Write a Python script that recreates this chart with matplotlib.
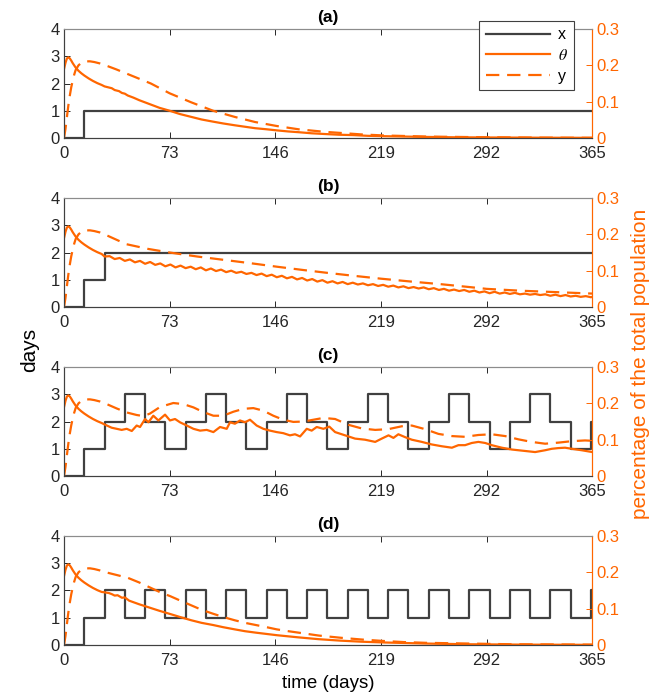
import numpy as np
import matplotlib
matplotlib.use('Agg')
import matplotlib.pyplot as plt
from matplotlib.lines import Line2D

plt.rcParams['font.family'] = ['Liberation Sans', 'DejaVu Sans']
plt.rcParams['mathtext.fontset'] = 'stix'

ORANGE = '#ff6600'
GREY = '#404040'

# ---- data ----
# x is held constant over 14-day blocks starting at these days
block_days = list(range(0, 365, 14))
x_a = [0, 1, 1, 1, 1, 1, 1, 1, 1, 1, 1, 1, 1, 1, 1, 1, 1, 1, 1, 1, 1, 1, 1, 1, 1, 1, 1]
x_b = [0, 1, 2, 2, 2, 2, 2, 2, 2, 2, 2, 2, 2, 2, 2, 2, 2, 2, 2, 2, 2, 2, 2, 2, 2, 2, 2]
x_c = [0, 1, 2, 3, 2, 1, 2, 3, 2, 1, 2, 3, 2, 1, 2, 3, 2, 1, 2, 3, 2, 1, 2, 3, 2, 1, 2]
x_d = [0, 1, 2, 1, 2, 1, 2, 1, 2, 1, 2, 1, 2, 1, 2, 1, 2, 1, 2, 1, 2, 1, 2, 1, 2, 1, 2]

# first four weeks are the same in every scenario
t_th_early = [0, 1, 2, 3, 4, 5, 6, 8, 10, 12, 14, 17, 20, 23, 26]
th_early = [.190, .207, .219, .222, .219, .213, .206, .194, .185, .178, .172, .164, .157, .151, .146]
t_y_early = [0, 1, 2, 3, 4, 5, 6, 7, 8, 10, 12, 15, 18, 21, 25]
y_early = [0, .025, .058, .090, .117, .140, .158, .174, .187, .200, .207, .211, .211, .209, .205]

# (a)
t_th_a = [28, 31, 33, 35, 38, 40, 42, 44, 48, 52, 56, 60, 66, 73, 80, 88, 95, 103, 110, 118,
          125, 132, 140, 147, 155, 162, 171, 180, 190, 200, 210, 221, 235, 250, 270, 292, 330, 365]
th_a = [.142, .139, .137, .132, .129, .124, .122, .117, .111, .104, .098, .092, .083, .075, .066,
        .058, .051, .045, .040, .035, .031, .027, .024, .021, .018, .016, .013, .011, .009, .008,
        .006, .005, .004, .003, .002, .0015, .0008, .0005]
t_y_a = [28, 36, 44, 52, 60, 73, 88, 103, 118, 132, 147, 162, 180, 191, 205, 221, 250, 292, 330, 365]
y_a = [.201, .189, .176, .163, .150, .123, .098, .075, .058, .044, .033, .024, .017, .014, .010,
       .007, .004, .002, .001, .0005]

# (b)
t_th_b = list(np.arange(28, 365, 3.5)) + [365]
th_b = [.139, .140, .132, .135, .127, .131, .123, .127, .119, .124,
        .116, .120, .112, .117, .109, .114, .107, .111, .104, .109,
        .101, .106, .099, .103, .096, .100, .094, .097, .091, .094,
        .088, .092, .085, .089, .082, .086, .079, .083, .076, .080,
        .073, .077, .070, .074, .067, .071, .065, .069, .063, .067,
        .062, .065, .060, .063, .058, .061, .056, .059, .054, .057,
        .052, .055, .051, .054, .049, .052, .047, .050, .045, .048,
        .044, .047, .042, .045, .040, .043, .038, .042, .037, .040,
        .036, .039, .035, .037, .034, .036, .033, .035, .031, .034,
        .030, .033, .029, .031, .028, .030, .027, .028]
t_y_b = [28, 43, 58, 73, 92, 112, 130, 147, 165, 182, 200, 219, 240, 260, 280, 292, 315, 340, 365]
y_b = [.200, .173, .160, .150, .139, .129, .120, .111, .102, .094, .086, .078, .070, .063, .055,
       .050, .045, .041, .037]

# (c)
t_th_c = [28, 32.9, 36.4, 39.8, 43.3, 46.8, 50.2, 52.5, 56.0, 58.3, 61.7, 65.2, 69.8, 73.2, 76.7,
          80.1, 84.8, 89.4, 94.0, 98.6, 103.2, 107.8, 112.4, 114.7, 118.1, 121.6, 125.0, 128.5,
          133.1, 137.7, 142.3, 146.9, 151.5, 156.1, 159.6, 163.1, 167.7, 171.1, 174.6, 179.2,
          183.3, 187.3, 194.2, 201.1, 208.0, 215.0, 219.5, 224.2, 227.6, 231.0, 235.7, 240.3,
          247.2, 254.0, 261.0, 268.0, 272.5, 277.1, 281.7, 286.3, 291.0, 295.5, 302.5, 309.4,
          318.6, 325.5, 332.4, 337.0, 341.6, 346.2, 350.8, 357.7, 365]
th_c = [.142, .133, .130, .127, .130, .124, .139, .135, .157, .148, .166, .153, .169, .153, .157,
        .148, .139, .130, .125, .127, .121, .135, .130, .148, .144, .153, .148, .155,
        .139, .130, .125, .121, .118, .112, .115, .109, .130, .125, .135, .130,
        .136, .121, .112, .103, .100, .094, .103, .112, .105, .115, .107, .100,
        .094, .087, .082, .078, .085, .085, .091, .094, .091, .085, .078, .073,
        .069, .066, .071, .075, .077, .078, .075, .071, .066]
t_y_c = [29.5, 36.4, 43.3, 50.2, 55, 59.4, 66.3, 75.5, 82.4, 89.4, 96.3, 103.2, 110, 117, 124,
         130.8, 137.7, 144.6, 151.5, 158.4, 165.4, 172.3, 179.2, 187.3, 196.5, 205.7, 215, 224,
         233.4, 240.3, 249.5, 258.7, 268, 277, 286.3, 295.5, 304.8, 314, 323, 332.4, 341.6,
         350.8, 360, 365]
y_c = [.198, .186, .175, .168, .165, .172, .190, .201, .198, .189, .176, .166, .166, .177, .185,
       .187, .180, .166, .155, .149, .150, .155, .160, .157, .141, .131, .127, .129,
       .137, .139, .129, .116, .110, .108, .113, .115, .110, .101, .094, .089, .092,
       .096, .098, .097]

# (d)
t_th_d = [28, 31, 33, 35, 37, 40, 42, 45, 52, 59, 66, 73.6, 81, 88, 95, 103, 110, 118, 125,
          132.5, 147, 162, 176, 191, 206, 221, 250, 280, 320, 365]
th_d = [.145, .143, .140, .136, .137, .130, .131, .122, .112, .103, .094, .085, .076, .068, .061,
        .055, .049, .043, .038, .034, .027, .021, .016, .012, .009, .007, .004, .002, .001, .0005]
t_y_d = [28, 44, 52, 59, 66, 73.6, 81, 88, 95, 103, 110, 118, 125, 132.5, 140, 147, 155, 162,
         176, 191, 206, 221, 235, 250, 280, 309, 340, 365]
y_d = [.201, .185, .172, .159, .146, .134, .121, .109, .097, .086, .077, .068, .061, .055, .049,
       .043, .038, .034, .026, .020, .015, .011, .008, .006, .004, .002, .0015, .001]

panels = [
    ('(a)', x_a, t_th_a, th_a, t_y_a, y_a),
    ('(b)', x_b, t_th_b, th_b, t_y_b, y_b),
    ('(c)', x_c, t_th_c, th_c, t_y_c, y_c),
    ('(d)', x_d, t_th_d, th_d, t_y_d, y_d),
]

# ---- figure ----
fig = plt.figure(figsize=(6.67, 6.97), dpi=100)
bottoms = [0.802, 0.5595, 0.317, 0.0746]
left, width, height = 0.096, 0.792, 0.1564
DASH = (0, (6, 3.5))
LW = 1.6

for (title, xs, tth, th, ty, yv), b in zip(panels, bottoms):
    ax = fig.add_axes([left, b, width, height])
    ax2 = ax.twinx()

    ax.step(block_days + [365], xs + [xs[-1]], where='post', color=GREY, lw=LW)
    ax2.plot(t_th_early + tth, th_early + th, color=ORANGE, lw=LW)
    ax2.plot(t_y_early + ty, y_early + yv, color=ORANGE, lw=LW, ls=DASH)

    ax.set_xlim(0, 365)
    ax.set_ylim(0, 4)
    ax2.set_ylim(0, 0.3)
    ax.set_xticks([0, 73, 146, 219, 292, 365])
    ax.set_yticks([0, 1, 2, 3, 4])
    ax2.set_yticks([0, 0.1, 0.2, 0.3])
    ax2.set_yticklabels(['0', '0.1', '0.2', '0.3'])

    ax.tick_params(axis='x', direction='in', length=4, width=0.7, colors='#262626',
                   labelsize=12, top=True, pad=6)
    ax.tick_params(axis='y', direction='in', length=4, width=0.7, colors='#262626',
                   labelsize=12, pad=3)
    ax2.tick_params(axis='y', direction='in', length=4, width=0.7, colors=ORANGE,
                    labelsize=12, pad=3)
    for a in (ax, ax2):
        a.spines['left'].set_color('#404040')
        a.spines['bottom'].set_color('#404040')
        a.spines['top'].set_color('#8c8c8c')
        a.spines['right'].set_color(ORANGE)
        for s in a.spines.values():
            s.set_linewidth(0.8)

    ax.set_title(title, fontsize=12.5, fontweight='bold', pad=5)

    if title == '(a)':
        handles = [Line2D([], [], color=GREY, lw=LW),
                   Line2D([], [], color=ORANGE, lw=LW),
                   Line2D([], [], color=ORANGE, lw=LW, ls=DASH)]
        leg = ax2.legend(handles, ['x', r'$\theta$', 'y'], loc='upper right',
                         bbox_to_anchor=(574 / 667, 1 - 21 / 697),
                         bbox_transform=fig.transFigure, fontsize=11.5, fancybox=False,
                         framealpha=1, edgecolor='#404040', handlelength=4.0,
                         handletextpad=0.5, borderpad=0.4, labelspacing=0.35,
                         borderaxespad=0)
        leg.get_frame().set_linewidth(0.8)

fig.text(0.045, 0.498, 'days', rotation=90, ha='center', va='center', fontsize=15)
fig.text(0.96, 0.478, 'percentage of the total population', rotation=90,
         ha='center', va='center', fontsize=15, color=ORANGE)
fig.text(0.492, 0.02, 'time (days)', ha='center', va='center', fontsize=13.5)

fig.savefig('out.png', dpi=100)
